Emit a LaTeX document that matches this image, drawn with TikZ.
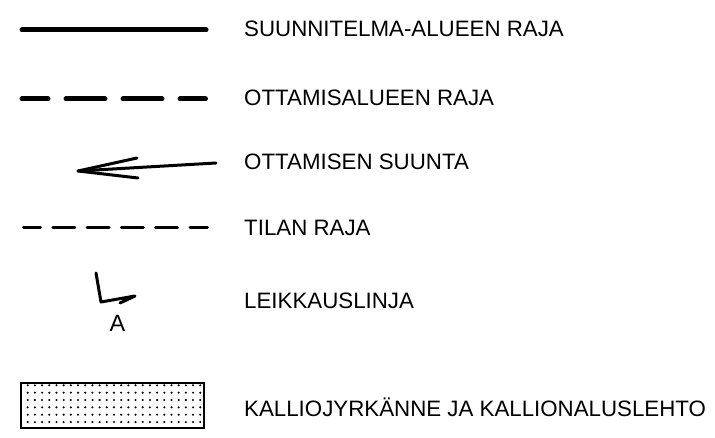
\documentclass[tikz,border=0pt]{standalone}
\usepackage{fontspec}
\setmainfont{Liberation Sans}
\begin{document}
\begin{tikzpicture}[x=1pt,y=-1pt,
  lbl/.style={anchor=base west,inner sep=0pt,font=\fontsize{22.3}{27}\selectfont},
  thickline/.style={line width=5pt,line cap=round},
  midline/.style={line width=3pt,line cap=round,line join=round},
  thinline/.style={line width=3pt,line cap=round}]
\useasboundingbox (0,0) rectangle (715,438);
% solid boundary
\coordinate (s1) at (22,30); \coordinate (s2) at (206,30);
\draw[thickline] (s1) -- (s2);
\node[lbl] (t1) at (244,36.5) {SUUNNITELMA-ALUEEN RAJA};
% thick dashed
\coordinate (d1) at (22,99); \coordinate (d2) at (205.5,99);
\draw[thickline,dash pattern=on 39pt off 18pt,dash phase=13pt] (d1) -- (d2);
\node[lbl] (t2) at (244,105.5) {OTTAMISALUEEN RAJA};
% arrow
\coordinate (a1) at (216,163); \coordinate (a2) at (78,171);
\coordinate (b1) at (137,158); \coordinate (b2) at (138,178);
\draw[midline] (a1) -- (a2);
\draw[midline] (b1) -- (a2) -- (b2);
\node[lbl] (t3) at (244,170) {OTTAMISEN SUUNTA};
% thin dashed
\coordinate (e1) at (23.5,228); \coordinate (e2) at (207.5,228);
\draw[thinline,dash pattern=on 22pt off 12.3pt,dash phase=5pt] (e1) -- (e2);
\node[lbl] (t4) at (244,235.5) {TILAN RAJA};
% section line
\coordinate (c1) at (96,273); \coordinate (c2) at (101,302);
\coordinate (c3) at (135,296); \coordinate (c4) at (120,303);
\draw[midline] (c1) -- (c2) -- (c3) -- (c4);
\node[lbl,anchor=base,font=\fontsize{23.5}{28}\selectfont] (tA) at (117.5,332) {A};
\node[lbl] (t5) at (244,309) {LEIKKAUSLINJA};
% dotted rectangle
\draw[line width=2pt] (21,383) rectangle (204,428);
\foreach \i in {0,...,24} {
  \foreach \j in {0,...,5} {
    \fill ({27.7+\i*7.19},{385.3+\j*7.35}) circle (1.15pt);
  }
}
\node[lbl] (t6) at (244,416.5) {KALLIOJYRKÄNNE JA KALLIONALUSLEHTO};
\end{tikzpicture}
\end{document}
